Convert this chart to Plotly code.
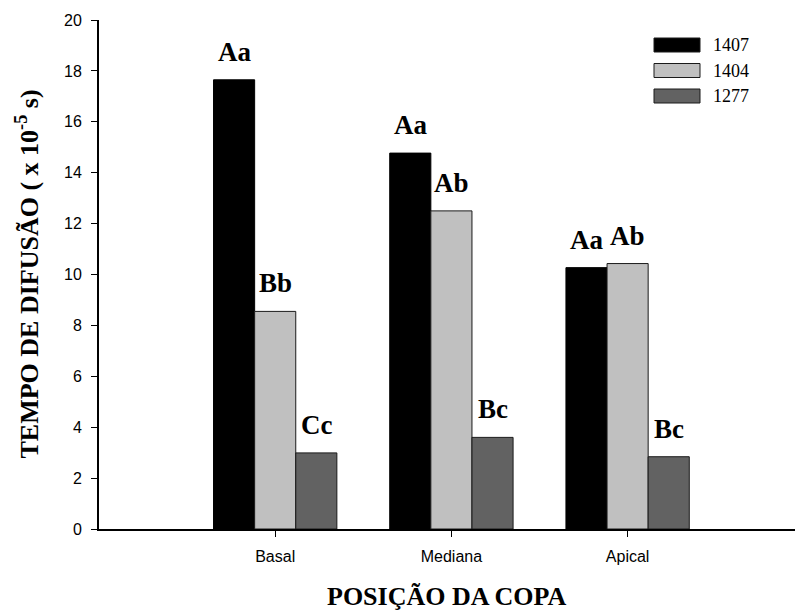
import plotly.graph_objects as go

# Diffusion time by crown position for three clones
positions = ["Basal", "Mediana", "Apical"]
series_names = ["1407", "1404", "1277"]
v1407 = [17.65, 14.77, 10.27]
v1404 = [8.55, 12.50, 10.43]
v1277 = [2.99, 3.60, 2.84]
letters1407 = ["Aa", "Aa", "Aa"]
letters1404 = ["Bb", "Ab", "Ab"]
letters1277 = ["Cc", "Bc", "Bc"]

values = [v1407, v1404, v1277]
letters = [letters1407, letters1404, letters1277]
fills = ["#000000", "#c0c0c0", "#626262"]
edges = ["#000000", "#1a1a1a", "#1a1a1a"]

BARGAP = 0.3
n_series = len(series_names)
bar_w = (1 - BARGAP) / n_series

fig = go.Figure()
for name, vals, fc, ec in zip(series_names, values, fills, edges):
    fig.add_trace(go.Bar(
        x=positions, y=vals, name=name,
        marker=dict(color=fc, line=dict(color=ec, width=1)),
        showlegend=False,
    ))

serif = "Liberation Serif, Times New Roman, serif"
sans = "Liberation Sans, Arial, sans-serif"

# significance letters above each bar
annotations = []
for j, (vals, labs) in enumerate(zip(values, letters)):
    for i, (v, lab) in enumerate(zip(vals, labs)):
        annotations.append(dict(
            x=i + (j - (n_series - 1) / 2) * bar_w, y=v,
            xref="x", yref="y", text=f"<b>{lab}</b>",
            showarrow=False, xanchor="center", yanchor="bottom", yshift=11,
            font=dict(family=serif, size=27, color="black"),
        ))

# axis titles
annotations.append(dict(
    x=0, y=0.5, xref="paper", yref="paper", xshift=-71,
    text="<b>TEMPO DE DIFUSÃO ( x 10<sup>-5</sup> s)</b>", textangle=-90,
    showarrow=False, xanchor="center", yanchor="middle",
    font=dict(family=serif, size=26, color="black"),
))
annotations.append(dict(
    x=0.5, y=0, xref="paper", yref="paper", yshift=-67,
    text="<b>POSIÇÃO DA COPA</b>",
    showarrow=False, xanchor="center", yanchor="middle",
    font=dict(family=serif, size=26, color="black"),
))

# legend drawn as wide swatches with labels
shapes = []
for k, (name, fc, ec) in enumerate(zip(series_names, fills, edges)):
    y_c = 45 + 25.5 * k
    shapes.append(dict(
        type="rect", xref="paper", yref="paper",
        x0=(654 - 99) / 696, x1=(700 - 99) / 696,
        y0=1 - (y_c - 7 - 20) / 509, y1=1 - (y_c + 7 - 20) / 509,
        fillcolor=fc, line=dict(color="#1a1a1a", width=1),
    ))
    annotations.append(dict(
        x=(711 - 99) / 696, y=1 - (y_c - 20) / 509, xref="paper", yref="paper",
        text=name, showarrow=False, xanchor="left", yanchor="middle",
        font=dict(family=serif, size=18, color="black"),
    ))

fig.update_layout(
    width=797, height=616,
    margin=dict(l=99, r=2, t=20, b=87),
    plot_bgcolor="white", paper_bgcolor="white",
    barmode="group", bargap=BARGAP, bargroupgap=0,
    annotations=annotations, shapes=shapes,
    xaxis=dict(
        range=[-1.0, 2.95], showline=True, linecolor="black", linewidth=2,
        ticks="outside", ticklen=6, tickcolor="black", tickwidth=1,
        ticklabelstandoff=6,
        tickfont=dict(family=sans, size=16, color="black"),
        showgrid=False, zeroline=False, fixedrange=True,
    ),
    yaxis=dict(
        range=[0, 20], dtick=2, showline=True, linecolor="black", linewidth=2,
        ticks="outside", ticklen=6, tickcolor="black", tickwidth=1,
        ticklabelstandoff=6,
        tickfont=dict(family=sans, size=16, color="black"),
        showgrid=False, zeroline=False, fixedrange=True,
    ),
)

fig.write_html("out.html")
